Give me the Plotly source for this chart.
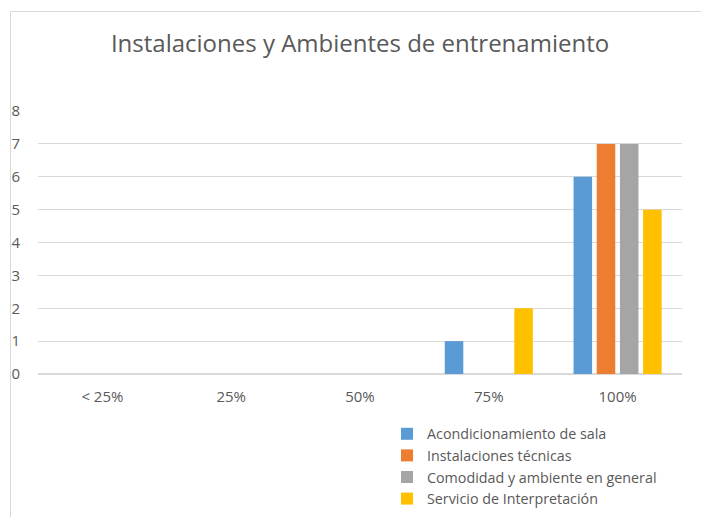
import plotly.graph_objects as go

categories = ["< 25%", "25%", "50%", "75%", "100%"]
series_names = ["Acondicionamiento de sala", "Instalaciones técnicas",
                "Comodidad y ambiente en general", "Servicio de Interpretación"]
acondicionamiento = [0, 0, 0, 1, 6]
instalaciones = [0, 0, 0, 0, 7]
comodidad = [0, 0, 0, 0, 7]
servicio = [0, 0, 0, 2, 5]
y_ticks = [0, 1, 2, 3, 4, 5, 6, 7, 8]

colors = ["#5B9BD5", "#ED7D31", "#A5A5A5", "#FFC000"]
values = [acondicionamiento, instalaciones, comodidad, servicio]

W, H = 701, 517
L, R, T, B = 38, 19, 111, 143
pw, ph = W - L - R, H - T - B

def px_x(p):
    return (p - L) / pw

def px_y(p):
    return (H - B - p) / ph

fig = go.Figure()
for name, vals, col in zip(series_names, values, colors):
    fig.add_trace(go.Bar(x=categories, y=vals, name=name, marker_color=col,
                         marker_line_width=0))

font = "Open Sans, Noto Sans, sans-serif"
fig.update_layout(
    width=W, height=H,
    margin=dict(l=L, r=R, t=T, b=B, autoexpand=False),
    paper_bgcolor="white", plot_bgcolor="white",
    barmode="group", bargap=0.28, bargroupgap=0.2,
    title=dict(text="Instalaciones y Ambientes de entrenamiento",
               x=0.5, xref="paper", xanchor="center",
               yref="container", y=1 - 44 / H, yanchor="middle",
               font=dict(family=font, size=24, color="#595959")),
    font=dict(family=font, color="#595959"),
    xaxis=dict(showgrid=False, showline=False, ticks="", automargin=False,
               tickfont=dict(size=15, color="#595959"),
               ticklabelstandoff=12),
    yaxis=dict(range=[0, 8], tickvals=y_ticks, showline=False, automargin=False,
               gridcolor="#d9d9d9", gridwidth=1,
               zeroline=True, zerolinecolor="#d9d9d9", zerolinewidth=2,
               tickfont=dict(size=15, color="#595959"),
               ticklabelstandoff=17),
    legend=dict(xref="container", yref="container",
                x=387 / W, y=1 - 418 / H, xanchor="left", yanchor="top",
                font=dict(family=font, size=14.3, color="#595959"),
                bgcolor="rgba(0,0,0,0)", tracegroupgap=0),
    shapes=[dict(type="rect", xref="paper", yref="paper",
                 x0=px_x(10.5), x1=px_x(720), y0=px_y(540), y1=px_y(11.5),
                 line=dict(color="#d9d9d9", width=1), fillcolor="rgba(0,0,0,0)",
                 layer="below")],
)

fig.write_html("out.html", config={"displayModeBar": False},
               post_script="document.body.style.margin='0';")
